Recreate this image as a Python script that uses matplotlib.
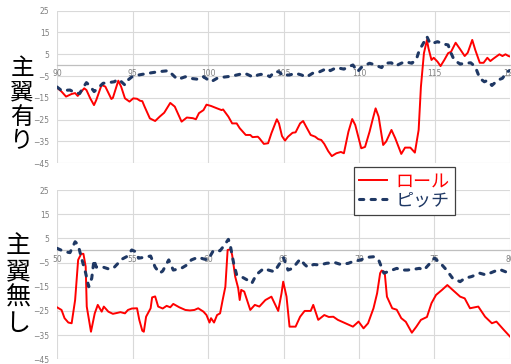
import matplotlib
matplotlib.use("Agg")
import matplotlib.pyplot as plt

plt.rcParams['font.family'] = ['Noto Sans CJK JP', 'DejaVu Sans']

# 主翼有り: time [s], roll / pitch [deg]
top_roll_t = [90.0, 90.3, 90.6, 90.97, 91.2, 91.37, 91.52, 91.8, 91.95, 92.2,
              92.45, 92.6, 92.95, 93.2, 93.6, 93.7, 94.06, 94.25, 94.5, 94.8,
              95.05, 95.3, 95.5, 95.65, 95.8, 96.15, 96.5, 96.8, 97.1, 97.5,
              97.8, 98.25, 98.6, 99.0, 99.2, 99.4, 99.7, 99.9, 100.2, 100.6,
              100.9, 101.0, 101.35, 101.6, 101.9, 102.1, 102.5, 102.8, 102.95, 103.3,
              103.4, 103.7, 103.98, 104.2, 104.56, 104.7, 104.9, 105.1, 105.3, 105.6,
              105.8, 106.1, 106.3, 106.5, 106.8, 107.1, 107.3, 107.5, 107.7, 107.96,
              108.2, 108.5, 108.8, 109.0, 109.3, 109.55, 109.75, 110.15, 110.4, 110.7,
              110.9, 111.1, 111.3, 111.6, 111.8, 112.15, 112.4, 112.8, 113.05, 113.4,
              113.7, 113.95, 114.1, 114.3, 114.5, 114.6, 114.8, 114.95, 115.2, 115.4,
              115.65, 115.9, 116.1, 116.4, 116.7, 117.0, 117.2, 117.5, 117.7, 118.0,
              118.25, 118.5, 118.7, 118.9, 119.3, 119.5, 119.7, 119.9, 120.0]
top_roll = [-10.3, -12.1, -14.4, -13.2, -12.8, -14.1, -12.9, -10.6, -11.4, -15.2,
            -18.3, -16.0, -9.1, -9.8, -15.5, -15.0, -7.1, -9.9, -15.2, -16.7,
            -15.2, -15.4, -16.3, -16.5, -19.0, -24.4, -25.6, -23.6, -21.8, -17.3,
            -19.0, -25.9, -24.0, -24.3, -24.8, -22.0, -20.6, -18.1, -18.7, -19.8,
            -20.6, -20.3, -23.6, -26.7, -26.7, -28.9, -32.0, -32.0, -33.0, -32.8,
            -33.5, -36.1, -35.8, -31.2, -24.8, -26.7, -32.5, -34.6, -32.8, -31.0,
            -30.8, -26.7, -25.6, -28.2, -32.0, -32.8, -33.9, -34.3, -36.1, -39.4,
            -41.7, -40.4, -39.8, -40.4, -30.5, -24.7, -27.4, -38.1, -37.5, -30.5,
            -25.0, -19.8, -23.6, -36.6, -35.0, -29.7, -33.5, -40.7, -37.8, -37.8,
            -40.1, -29.7, -9.9, 5.5, 11.6, 7.8, 2.4, 3.4, 1.6, -0.4,
            2.4, 5.5, 6.2, 10.3, 7.3, 4.2, 5.7, 11.6, 7.0, 1.1,
            1.1, 3.4, 1.9, 3.0, 5.0, 4.2, 5.0, 4.2, 4.0]

top_pitch_t = [90.0, 90.3, 90.86, 91.2, 91.5, 91.7, 91.95, 92.15, 92.46, 92.7,
               93.05, 93.4, 93.8, 94.0, 94.25, 94.5, 94.7, 94.97, 95.4, 96.05,
               96.7, 97.4, 97.6, 97.9, 98.0, 98.5, 98.8, 99.4, 99.7, 100.2,
               100.6, 101.0, 101.6, 101.9, 102.4, 102.6, 103.0, 103.3, 103.5, 103.9,
               104.1, 104.4, 104.7, 105.0, 105.2, 105.4, 105.8, 106.2, 106.5, 107.0,
               107.4, 107.9, 108.1, 108.5, 109.0, 109.3, 109.6, 109.9, 110.2, 110.7,
               110.9, 111.5, 111.7, 112.15, 112.4, 112.8, 113.05, 113.5, 113.8, 114.0,
               114.2, 114.5, 114.7, 114.95, 115.2, 115.6, 115.9, 116.1, 116.3, 116.7,
               117.0, 117.4, 117.7, 118.0, 118.3, 118.5, 118.8, 119.2, 119.5, 119.8, 120.0]
top_pitch = [-10.0, -11.6, -11.4, -12.6, -13.0, -10.6, -8.0, -9.3, -12.1, -10.6,
             -8.3, -8.0, -7.6, -6.5, -7.5, -9.1, -6.8, -5.3, -4.5, -3.7,
             -3.0, -2.5, -4.0, -6.0, -6.5, -5.3, -6.0, -6.5, -5.3, -7.6,
             -6.0, -5.5, -5.0, -4.5, -3.7, -4.2, -5.5, -4.5, -4.2, -4.5,
             -5.3, -3.0, -3.0, -5.0, -4.5, -4.5, -3.7, -4.5, -5.5, -3.4,
             -3.0, -1.4, -2.5, -1.1, -1.8, -0.7, 0.1, -3.0, -0.7, 0.9,
             0.5, -1.1, 0.9, 1.1, -0.4, 0.9, 1.6, 0.9, 2.7, 7.0,
             9.3, 13.1, 10.0, 10.2, 10.8, 9.7, 9.3, 5.5, 2.4, 0.5,
             0.9, 1.1, -0.7, -6.0, -7.6, -7.0, -9.3, -6.8, -6.0, -3.0, -2.5]

# 主翼無し
bot_roll_t = [50.0, 50.3, 50.5, 50.75, 50.97, 51.2, 51.4, 51.6, 51.75, 51.9,
              51.97, 52.25, 52.5, 52.7, 52.96, 53.1, 53.4, 53.7, 54.0, 54.2,
              54.5, 54.7, 54.96, 55.3, 55.45, 55.65, 55.75, 55.9, 56.2, 56.3,
              56.5, 56.7, 57.0, 57.26, 57.5, 57.7, 58.1, 58.5, 58.8, 59.1,
              59.35, 59.7, 59.9, 60.1, 60.2, 60.4, 60.6, 60.8, 60.97, 61.15,
              61.3, 61.5, 61.6, 61.8, 62.0, 62.1, 62.2, 62.4, 62.6, 62.8,
              63.1, 63.4, 63.8, 64.2, 64.65, 64.87, 64.98, 65.2, 65.4, 65.8,
              66.1, 66.4, 66.8, 66.97, 67.3, 67.7, 68.0, 68.3, 68.6, 69.1,
              69.6, 69.97, 70.3, 70.6, 70.96, 71.2, 71.4, 71.5, 71.7, 71.85,
              72.2, 72.5, 72.8, 73.1, 73.5, 73.8, 74.1, 74.5, 74.8, 75.1,
              75.5, 75.85, 76.2, 76.7, 77.0, 77.35, 77.9, 78.35, 78.8, 79.1, 79.6, 80.0]
bot_roll = [-23.5, -24.6, -28.0, -29.8, -30.1, -20.5, -3.9, -1.4, -1.4, -6.7,
            -23.2, -33.6, -26.0, -22.5, -25.3, -23.2, -25.3, -26.2, -25.8, -25.5,
            -26.0, -24.6, -24.0, -23.9, -28.7, -33.2, -33.6, -27.4, -23.9, -19.4,
            -19.0, -23.2, -24.0, -22.9, -23.5, -22.1, -23.5, -24.6, -24.8, -24.6,
            -23.9, -25.3, -26.7, -29.8, -28.0, -29.8, -26.7, -26.0, -20.5, -15.0,
            0.2, 0.5, -1.9, -10.8, -15.6, -20.5, -16.3, -17.0, -20.8, -24.6,
            -22.5, -23.2, -20.5, -19.1, -25.0, -17.7, -12.9, -19.1, -31.5, -31.5,
            -27.4, -25.0, -25.0, -22.5, -28.7, -26.7, -27.5, -27.4, -28.7, -30.1,
            -31.5, -29.4, -32.2, -30.1, -23.9, -17.7, -9.4, -8.3, -9.0, -19.1,
            -23.9, -24.5, -28.0, -29.5, -34.0, -31.5, -28.7, -27.5, -21.8, -18.4,
            -16.3, -14.3, -16.3, -19.1, -19.8, -23.9, -23.2, -27.4, -30.1, -29.4, -32.9, -35.6]

bot_pitch_t = [50.0, 50.5, 50.86, 51.2, 51.4, 51.6, 51.9, 52.1, 52.3, 52.45,
               52.6, 53.06, 53.5, 53.8, 54.3, 54.6, 54.95, 55.2, 55.4, 55.7,
               56.2, 56.5, 56.8, 57.0, 57.4, 57.7, 58.2, 58.6, 58.9, 59.35,
               59.7, 60.0, 60.35, 60.8, 61.1, 61.35, 61.5, 61.7, 61.9, 62.2,
               62.6, 62.9, 63.2, 63.7, 64.0, 64.4, 64.9, 65.0, 65.3, 65.6,
               66.1, 66.4, 66.6, 67.0, 67.4, 67.85, 68.4, 68.8, 69.3, 69.5,
               70.1, 70.6, 70.96, 71.3, 71.65, 71.9, 72.5, 72.8, 73.2, 73.6,
               74.0, 74.3, 74.8, 75.0, 75.4, 75.8, 76.2, 76.7, 77.0, 77.45,
               78.0, 78.4, 78.9, 79.3, 79.7, 80.0]
bot_pitch = [0.9, -0.5, -0.9, 3.6, 2.3, -2.6, -9.4, -15.0, -11.5, -3.9,
             -6.9, -6.9, -7.8, -6.9, -3.6, -2.6, 0.2, -0.5, -3.2, -2.9,
             -2.3, -6.9, -9.4, -8.5, -3.9, -8.1, -7.5, -6.0, -3.9, -2.8,
             -3.5, -3.9, -0.1, -0.1, 2.3, 4.6, 1.3, -5.3, -10.1, -10.8,
             -12.2, -13.6, -10.0, -7.4, -8.1, -8.8, -3.9, -3.0, -8.1, -7.4,
             -3.6, -5.8, -6.9, -5.8, -6.0, -5.3, -5.0, -5.8, -5.3, -4.8,
             -3.9, -2.8, -2.6, -3.9, -9.4, -8.8, -7.4, -8.1, -8.1, -7.8,
             -7.4, -8.1, -4.6, -3.2, -5.3, -8.1, -11.5, -12.9, -11.5, -10.8,
             -9.4, -10.1, -8.8, -7.8, -8.8, -9.4]

y_ticks = [25, 15, 5, -5, -15, -25, -35, -45]
top_x_ticks = [90, 95, 100, 105, 110, 115, 120]
bot_x_ticks = [50, 55, 60, 65, 70, 75, 80]
series_names = ['ロール', 'ピッチ']

ROLL_COLOR = '#ff0000'
PITCH_COLOR = '#1f3864'
W, H = 511, 364

fig = plt.figure(figsize=(W / 100, H / 100), dpi=100)
ax_top = fig.add_axes([57 / W, 1 - 163.3 / H, 453 / W, 152.6 / H])
ax_bot = fig.add_axes([57 / W, 1 - 359.3 / H, 453 / W, 169.3 / H])


def style_axes(ax, xticks):
    ax.set_xlim(xticks[0], xticks[-1])
    ax.set_ylim(-45, 25)
    ax.set_xticks(xticks)
    ax.set_yticks(y_ticks)
    ax.set_axisbelow(True)
    ax.grid(True, color='#d9d9d9', lw=0.8)
    for side in ['top', 'right', 'left']:
        ax.spines[side].set_visible(False)
    # category axis crosses at 0
    ax.spines['bottom'].set_position(('data', 0))
    ax.spines['bottom'].set_color('#bfbfbf')
    ax.spines['bottom'].set_linewidth(0.9)
    ax.spines['bottom'].set_zorder(0.6)
    ax.tick_params(axis='both', length=0, labelsize=5.5, colors='#7f7f7f')
    ax.tick_params(axis='x', pad=3)
    ax.tick_params(axis='y', pad=5.5)
    for lbl in ax.get_xticklabels() + ax.get_yticklabels():
        lbl.set_family('DejaVu Sans')


def draw_series(ax, rt, rv, pt, pv):
    roll, = ax.plot(rt, rv, color=ROLL_COLOR, lw=1.4, solid_joinstyle='round',
                    zorder=3)
    pitch, = ax.plot(pt, pv, color=PITCH_COLOR, lw=2.2, dashes=(1.4, 2.4),
                     dash_capstyle='round', zorder=4)
    return roll, pitch


style_axes(ax_top, top_x_ticks)
style_axes(ax_bot, bot_x_ticks)
roll_line, pitch_line = draw_series(ax_top, top_roll_t, top_roll, top_pitch_t, top_pitch)
draw_series(ax_bot, bot_roll_t, bot_roll, bot_pitch_t, bot_pitch)

# vertical row labels, one character per line
for chars, x, y0, step, size in [('主翼有り', 22, 68, 24.5, 17),
                                  ('主翼無し', 18, 246, 26, 18)]:
    for i, ch in enumerate(chars):
        fig.text(x / W, 1 - (y0 + i * step) / H, ch, fontsize=size,
                 ha='center', va='center', color='black')

leg = fig.legend([roll_line, pitch_line], series_names, loc='upper left',
                 bbox_to_anchor=(354 / W, 1 - 167 / H), borderaxespad=0,
                 fontsize=13, labelcolor='linecolor', fancybox=False,
                 framealpha=1, edgecolor='#404040', handlelength=1.5,
                 handletextpad=0.5, borderpad=0.3, labelspacing=0.05)
leg.get_frame().set_linewidth(0.9)
leg.set_zorder(10)

fig.savefig('out.png', dpi=100, facecolor='white')
